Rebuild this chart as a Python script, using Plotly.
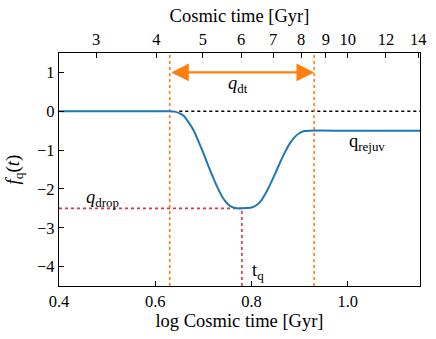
import numpy as np
import plotly.graph_objects as go

# curve
log_t = [0.40, 0.60, 0.63, 0.64, 0.65, 0.66, 0.67, 0.68, 0.69, 0.70, 0.71, 0.72, 0.73, 0.74,
         0.75, 0.76, 0.77, 0.78, 0.79, 0.80, 0.81, 0.82, 0.83, 0.84, 0.85, 0.86, 0.87,
         0.88, 0.89, 0.90, 0.91, 0.92, 1.00, 1.15]
f_q = [0.0, 0.0, 0.0, -0.01, -0.05, -0.13, -0.30, -0.50, -0.78, -1.08, -1.40, -1.70, -1.98, -2.22,
       -2.38, -2.47, -2.50, -2.50, -2.49, -2.48, -2.42, -2.30, -2.10, -1.85, -1.58, -1.30, -1.04,
       -0.82, -0.66, -0.56, -0.51, -0.50, -0.50, -0.50]

t_start = 0.63
t_end = 0.93
t_q = 0.78
q_drop = -2.5
q_rejuv = -0.5

bottom_ticks = [0.4, 0.6, 0.8, 1.0]
bottom_ticktext = ["0.4", "0.6", "0.8", "1.0"]
top_ticks_gyr = [3, 4, 5, 6, 7, 8, 9, 10, 12, 14]
y_ticks = [1, 0, -1, -2, -3, -4]
y_ticktext = ["1", "0", "\u22121", "\u22122", "\u22123", "\u22124"]

xr = [0.4, 1.15]
yr = [-4.5, 1.5]

FONT = "Liberation Serif, DejaVu Serif, serif"
orange = "#ff7f0e"
red = "#e8333a"

fig = go.Figure()

# dotted reference lines
fig.add_trace(go.Scatter(x=[0.65, xr[1]], y=[0, 0], mode="lines",
                         line=dict(color="black", width=1.6, dash="dot"), showlegend=False))
fig.add_trace(go.Scatter(x=[xr[0], t_q], y=[q_drop, q_drop], mode="lines",
                         line=dict(color=red, width=1.6, dash="dot"), showlegend=False))
fig.add_trace(go.Scatter(x=[t_q, t_q], y=[yr[0], q_drop], mode="lines",
                         line=dict(color=red, width=1.6, dash="dot"), showlegend=False))
for xv in (t_start, t_end):
    fig.add_trace(go.Scatter(x=[xv, xv], y=yr, mode="lines",
                             line=dict(color=orange, width=1.6, dash="dot"), showlegend=False))

fig.add_trace(go.Scatter(x=log_t, y=f_q, mode="lines", line=dict(color="#1f77b4", width=2),
                         line_shape="spline", line_smoothing=0.6, showlegend=False))

# invisible trace for top axis
fig.add_trace(go.Scatter(x=xr, y=[0, 0], xaxis="x2", yaxis="y", mode="lines",
                         line=dict(width=0), opacity=0, showlegend=False, hoverinfo="skip"))

# double arrow
fig.add_annotation(x=t_end, y=1.0, ax=t_start, ay=1.0, xref="x", yref="y", axref="x", ayref="y",
                   showarrow=True, arrowside="end+start", arrowhead=2, arrowsize=1.6,
                   arrowwidth=2.2, arrowcolor=orange, text="")

tf = dict(family=FONT, size=18.5, color="black")
fig.add_annotation(x=0.772, y=0.68, text="<i>q</i><sub>dt</sub>", showarrow=False, font=tf)
fig.add_annotation(x=0.49, y=-2.25, text="<i>q</i><sub>drop</sub>", showarrow=False, font=tf)
fig.add_annotation(x=0.813, y=-4.12, text="t<sub>q</sub>", showarrow=False, font=tf)
fig.add_annotation(x=1.04, y=-0.8, text="q<sub>rejuv</sub>", showarrow=False, font=tf)

axis_common = dict(showgrid=False, zeroline=False, ticks="inside", ticklen=5, tickwidth=1,
                   tickcolor="black", linecolor="black", linewidth=1.2,
                   tickfont=dict(family=FONT, size=16.5, color="black"))

fig.update_layout(
    width=436, height=339,
    font=dict(family=FONT, color="black"),
    margin=dict(l=59, r=16, t=53, b=53, autoexpand=False),
    paper_bgcolor="white", plot_bgcolor="white",
    xaxis=dict(range=xr, tickvals=bottom_ticks, ticktext=bottom_ticktext,
               title=dict(text="log Cosmic time [Gyr]", font=dict(family=FONT, size=18.5), standoff=2),
               **axis_common),
    xaxis2=dict(range=xr, overlaying="x", side="top",
                tickvals=list(np.log10(top_ticks_gyr)), ticktext=[str(v) for v in top_ticks_gyr],
                title=dict(text="Cosmic time [Gyr]", font=dict(family=FONT, size=18.5), standoff=2),
                **axis_common),
    yaxis=dict(range=yr, tickvals=y_ticks, ticktext=y_ticktext, mirror=True,
               title=dict(text="<i>f</i><sub>q</sub>(<i>t</i>)", font=dict(family=FONT, size=19), standoff=12),
               **axis_common),
    showlegend=False,
)
fig.write_html("out.html", post_script="document.body.style.margin='0';",
               config={"displayModeBar": False})
